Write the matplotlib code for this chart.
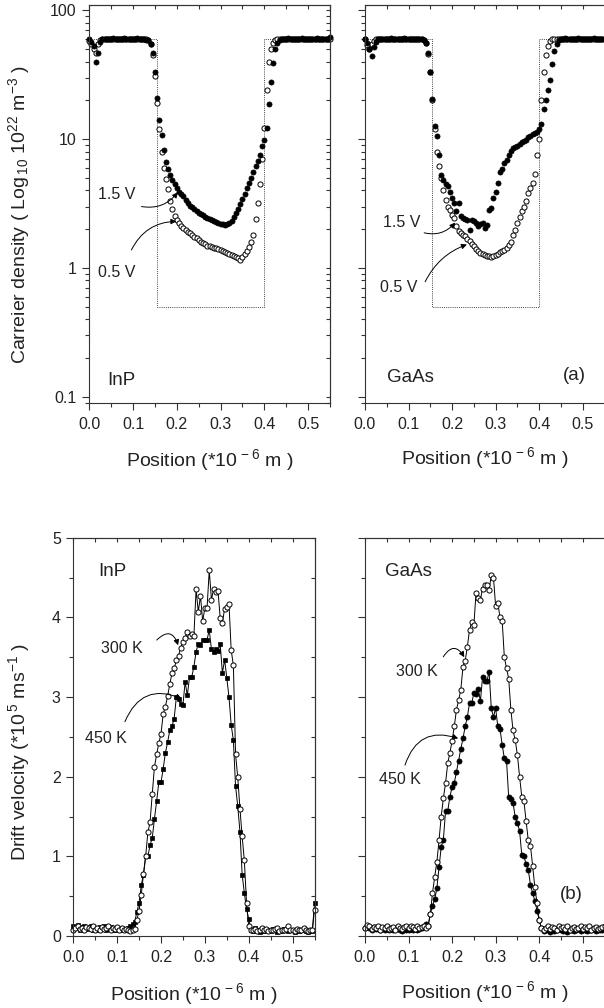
import matplotlib
matplotlib.use('Agg')
import matplotlib.pyplot as plt
from matplotlib.ticker import MultipleLocator, LogLocator, NullFormatter

plt.rcParams['font.family'] = ['Liberation Sans', 'DejaVu Sans']
plt.rcParams['mathtext.fontset'] = 'custom'
plt.rcParams['mathtext.rm'] = 'Liberation Sans'
plt.rcParams['mathtext.it'] = 'Liberation Sans:italic'

# ── data: position grid (*1e-6 m) ───────────────────────────────────────────
POS = [0.000, 0.005, 0.010, 0.015, 0.020, 0.025, 0.030, 0.035, 0.040, 0.045,
       0.050, 0.055, 0.060, 0.065, 0.070, 0.075, 0.080, 0.085, 0.090, 0.095,
       0.100, 0.105, 0.110, 0.115, 0.120, 0.125, 0.130, 0.135, 0.140, 0.145,
       0.150, 0.155, 0.160, 0.165, 0.170, 0.175, 0.180, 0.185, 0.190, 0.195,
       0.200, 0.205, 0.210, 0.215, 0.220, 0.225, 0.230, 0.235, 0.240, 0.245,
       0.250, 0.255, 0.260, 0.265, 0.270, 0.275, 0.280, 0.285, 0.290, 0.295,
       0.300, 0.305, 0.310, 0.315, 0.320, 0.325, 0.330, 0.335, 0.340, 0.345,
       0.350, 0.355, 0.360, 0.365, 0.370, 0.375, 0.380, 0.385, 0.390, 0.395,
       0.400, 0.405, 0.410, 0.415, 0.420, 0.425, 0.430, 0.435, 0.440, 0.445,
       0.450, 0.455, 0.460, 0.465, 0.470, 0.475, 0.480, 0.485, 0.490, 0.495,
       0.500, 0.505, 0.510, 0.515, 0.520, 0.525, 0.530, 0.535, 0.540, 0.545,
       0.550]

# doping profile (dotted)
DOPING_X = [0.0, 0.155, 0.155, 0.40, 0.40, 0.55]
DOPING_Y = [60, 60, 0.5, 0.5, 60, 60]

# carrier density (1e22 m^-3), InP
INP_15V = [60, 57, 53, 40, 47, 57, 60, 59.5, 60, 60,
           60, 60.5, 60, 59.5, 60, 60, 60.5, 60, 60, 59.5,
           60, 60, 60.5, 60, 60, 59.5, 59, 58.5, 55, 47,
           33, 21, 14, 10.7, 8.2, 6.7, 5.9, 5.3, 4.8, 4.5,
           4.2, 3.9, 3.75, 3.6, 3.4, 3.2, 3.05, 2.95, 2.85, 2.77,
           2.68, 2.62, 2.56, 2.5, 2.44, 2.4, 2.35, 2.3, 2.27, 2.24,
           2.2, 2.18, 2.17, 2.18, 2.24, 2.32, 2.47, 2.65, 2.85, 3.15,
           3.45, 3.75, 4.2, 4.6, 5.0, 5.6, 6.2, 6.8, 7.6, 8.8,
           9.9, 12.2, 18.6, 28, 39, 50, 56, 59, 60, 60,
           60, 60.5, 60, 60, 59.5, 60, 60, 60.5, 60, 60,
           60, 59.5, 60, 60, 60.5, 60, 60, 59.5, 60, 60,
           62]
INP_05V = [58, 55, 50, 47, 55, 59, 60, 60, 60, 60,
           60, 60, 60, 60, 60, 60, 60, 60, 60, 60,
           60, 60, 60, 60, 60, 60, 59.5, 58.5, 55, 45,
           31, 19, 12, 8.0, 6.0, 4.9, 4.1, 3.3, 2.85, 2.55,
           2.35, 2.22, 2.12, 2.04, 1.97, 1.91, 1.86, 1.8, 1.74, 1.7,
           1.64, 1.6, 1.56, 1.53, 1.49, 1.47, 1.45, 1.44, 1.42, 1.4,
           1.38, 1.36, 1.33, 1.3, 1.28, 1.26, 1.24, 1.22, 1.19, 1.16,
           1.22, 1.28, 1.36, 1.45, 1.6, 1.8, 2.4, 3.2, 4.5, 7.0,
           12.2, 24, 40, 50, 56, 59, 60, 60, 60, 60,
           60, 60, 60, 60, 60, 60, 60, 60, 60, 60,
           60, 60, 60, 60, 60, 60, 60, 60, 60, 60,
           60]

# carrier density (1e22 m^-3), GaAs
GAAS_15V = [60, 56, 50, 44, 52, 57, 60, 60, 60, 60,
            60, 60, 60.5, 60, 60, 59.5, 60, 60, 60.5, 60,
            60, 60, 60, 60, 60, 60, 59.5, 58.5, 56, 47,
            33, 20.5, 12.6, 10.6, 7.6, 5.3, 4.8, 4.5, 4.3, 3.87,
            3.5, 3.2, 2.75, 3.2, 2.55, 2.45, 2.4, 2.37, 1.98, 2.37,
            2.3, 2.25, 2.1, 2.2, 2.24, 2.04, 2.17, 2.8, 2.9, 3.5,
            3.9, 4.6, 5.6, 5.9, 6.5, 6.9, 7.6, 8.1, 8.5, 8.7,
            8.9, 9.2, 9.5, 9.7, 9.9, 10.3, 10.6, 10.9, 11.1, 11.3,
            11.9, 13, 17, 20.2, 24, 29, 38, 48, 55, 59,
            60, 60, 60.5, 60, 60, 59.5, 60, 60, 60.5, 60,
            60, 60, 59.5, 60, 60, 60.5, 60, 60, 60, 60,
            60]
GAAS_05V = [60, 54, 50, 55, 58, 60, 60, 60, 60, 60,
            60, 60, 60, 60, 60, 60, 60, 60, 60, 60,
            60, 60, 60, 60, 60, 60, 59.5, 58.5, 56, 46,
            33, 20, 12, 8.0, 6.15, 5.0, 4.06, 3.4, 3.0, 2.84,
            2.6, 2.45, 2.1, 1.93, 1.86, 1.8, 1.76, 1.68, 1.61, 1.53,
            1.47, 1.41, 1.35, 1.31, 1.28, 1.26, 1.24, 1.23, 1.22, 1.23,
            1.25, 1.29, 1.33, 1.36, 1.38, 1.43, 1.5, 1.6, 1.8, 1.98,
            2.25, 2.5, 2.75, 3.0, 3.3, 3.83, 4.2, 4.6, 5.4, 7.6,
            10, 20, 33, 45, 53, 58, 60, 60, 60, 60,
            60, 60, 60, 60, 60, 60, 60, 60, 60, 60,
            60, 60, 60, 60, 60, 60, 60, 60, 60, 60,
            60]

# drift velocity (1e5 m/s), InP
INP_300K = [0.08, 0.1, 0.12, 0.09, 0.1, 0.07, 0.11, 0.1, 0.09, 0.12,
            0.08, 0.1, 0.07, 0.11, 0.09, 0.1, 0.12, 0.08, 0.1, 0.09,
            0.11, 0.08, 0.1, 0.07, 0.09, 0.08, 0.06, 0.07, 0.09, 0.2,
            0.32, 0.52, 0.78, 1.0, 1.3, 1.43, 1.78, 2.12, 2.28, 2.42,
            2.54, 2.79, 2.88, 3.01, 3.16, 3.30, 3.36, 3.46, 3.52, 3.62,
            3.69, 3.74, 3.81, 3.77, 3.79, 3.77, 4.35, 4.07, 4.27, 3.95,
            4.12, 4.12, 4.59, 4.22, 4.36, 4.32, 4.33, 3.99, 3.93, 4.11,
            4.13, 4.17, 3.59, 3.4, 2.28, 1.99, 1.6, 1.25, 0.95, 0.42,
            0.12, 0.08, 0.07, 0.09, 0.06, 0.08, 0.1, 0.07, 0.09, 0.06,
            0.08, 0.07, 0.09, 0.1, 0.06, 0.08, 0.07, 0.09, 0.12, 0.07,
            0.08, 0.06, 0.09, 0.07, 0.08, 0.1, 0.07, 0.06, 0.08, 0.07,
            0.33]
INP_450K = [0.12, 0.1, 0.14, 0.08, 0.11, 0.13, 0.09, 0.1, 0.12, 0.07,
            0.1, 0.08, 0.11, 0.09, 0.12, 0.08, 0.1, 0.11, 0.07, 0.09,
            0.08, 0.1, 0.07, 0.09, 0.08, 0.1, 0.12, 0.15, 0.18, 0.3,
            0.42, 0.64, 0.77, 1.0, 1.0, 1.14, 1.23, 1.47, 1.69, 1.93,
            1.93, 2.1, 2.3, 2.43, 2.58, 2.63, 2.73, 3.0, 2.97, 2.91,
            2.9, 3.19, 3.02, 3.25, 3.25, 3.38, 3.57, 3.67, 3.65, 3.71,
            3.71, 3.72, 3.84, 3.6, 3.57, 3.6, 3.58, 3.66, 3.30, 3.47,
            3.24, 3.0, 2.65, 2.46, 1.88, 1.63, 1.31, 0.77, 0.54, 0.34,
            0.21, 0.08, 0.06, 0.1, 0.07, 0.05, 0.09, 0.06, 0.08, 0.07,
            0.06, 0.09, 0.07, 0.05, 0.08, 0.06, 0.09, 0.07, 0.06, 0.08,
            0.07, 0.05, 0.08, 0.06, 0.07, 0.09, 0.06, 0.05, 0.07, 0.06,
            0.41]

# drift velocity (1e5 m/s), GaAs
GAAS_300K = [0.1, 0.14, 0.12, 0.09, 0.11, 0.1, 0.12, 0.08, 0.11, 0.1,
             0.12, 0.09, 0.1, 0.11, 0.08, 0.12, 0.1, 0.09, 0.11, 0.12,
             0.1, 0.12, 0.11, 0.09, 0.12, 0.1, 0.11, 0.12, 0.1, 0.13,
             0.28, 0.54, 0.74, 0.93, 1.2, 1.5, 1.73, 1.92, 2.17, 2.3,
             2.45, 2.63, 2.84, 2.96, 3.09, 3.38, 3.45, 3.63, 3.84, 3.94,
             3.9, 4.31, 4.24, 4.22, 4.36, 4.40, 4.40, 4.34, 4.53, 4.5,
             4.14, 4.18, 4.0, 3.96, 3.5, 3.36, 3.23, 2.84, 2.58, 2.46,
             2.27, 2.0, 1.75, 1.69, 1.44, 1.2, 1.13, 0.88, 0.61, 0.42,
             0.2, 0.1, 0.08, 0.1, 0.12, 0.09, 0.11, 0.1, 0.08, 0.12,
             0.1, 0.11, 0.09, 0.12, 0.08, 0.1, 0.11, 0.09, 0.1, 0.12,
             0.09, 0.11, 0.1, 0.12, 0.08, 0.1, 0.11, 0.09, 0.1, 0.11,
             0.12]
GAAS_450K = [0.1, 0.13, 0.1, 0.08, 0.11, 0.09, 0.1, 0.08, 0.1, 0.07,
             0.09, 0.08, 0.1, 0.07, 0.09, 0.1, 0.08, 0.06, 0.09, 0.08,
             0.07, 0.09, 0.08, 0.1, 0.08, 0.09, 0.1, 0.12, 0.15, 0.12,
             0.28, 0.38, 0.46, 0.6, 0.86, 1.12, 1.21, 1.57, 1.57, 1.75,
             1.87, 1.92, 2.06, 2.2, 2.35, 2.48, 2.63, 2.75, 2.92, 2.92,
             3.05, 3.04, 3.1, 2.95, 3.25, 3.2, 3.2, 3.32, 2.86, 2.75,
             2.86, 2.63, 2.6, 2.4, 2.23, 2.2, 1.74, 1.72, 1.67, 1.49,
             1.42, 1.32, 1.02, 1.0, 0.9, 0.83, 0.64, 0.54, 0.44, 0.32,
             0.2, 0.1, 0.06, 0.08, 0.07, 0.05, 0.08, 0.06, 0.07, 0.09,
             0.07, 0.06, 0.08, 0.05, 0.07, 0.08, 0.06, 0.07, 0.09, 0.06,
             0.08, 0.07, 0.06, 0.08, 0.07, 0.09, 0.06, 0.08, 0.07, 0.08,
             0.09]

X_TICKS = [0.0, 0.1, 0.2, 0.3, 0.4, 0.5]
X_TICKLABELS = ['0.0', '0.1', '0.2', '0.3', '0.4', '0.5']
DENS_TICKS = [0.1, 1, 10, 100]
DENS_TICKLABELS = ['0.1', '1', '10', '100']
VEL_TICKS = [0, 1, 2, 3, 4, 5]
VEL_TICKLABELS = ['0', '1', '2', '3', '4', '5']

XLABEL = r'Position (*10$^{\,-6}$ m )'
YLABEL_A = r'Carreier density ( Log$_{\,10}$ 10$^{22}$ m$^{-3}$ )'
YLABEL_B = r'Drift velocity (*10$^{\,5}$ ms$^{-1}$ )'

INK = '#222222'
AX_C = '#333333'
W, H = 604.0, 1008.0


def rect(l, r, t, b):
    return [l / W, 1 - b / H, (r - l) / W, (b - t) / H]


def style(ax, log, left_panel):
    for s in ax.spines.values():
        s.set_color(AX_C)
        s.set_linewidth(0.8)
    ax.set_xlim(0, 0.55)
    ax.set_xticks(X_TICKS)
    ax.set_xticklabels(X_TICKLABELS)
    ax.xaxis.set_minor_locator(MultipleLocator(0.05))
    if log:
        ax.set_yscale('log')
        ax.set_ylim(0.089, 110)
        ax.set_yticks(DENS_TICKS)
        ax.set_yticklabels(DENS_TICKLABELS)
        ax.yaxis.set_minor_locator(LogLocator(base=10, subs=range(2, 10)))
        ax.yaxis.set_minor_formatter(NullFormatter())
    else:
        ax.set_ylim(0, 5)
        ax.set_yticks(VEL_TICKS)
        ax.set_yticklabels(VEL_TICKLABELS)
        ax.yaxis.set_minor_locator(MultipleLocator(0.5))
    ax.tick_params(which='major', direction='out', length=5, width=0.8,
                   color=AX_C, labelsize=11.5, labelcolor=INK, pad=4)
    ax.tick_params(which='minor', direction='out', length=3, width=0.8, color=AX_C)
    ax.tick_params(axis='x', which='major', pad=5)
    if not left_panel:
        ax.tick_params(axis='y', labelleft=False)
        ax.spines['right'].set_visible(False)
    else:
        # inward ticks on the right spine
        sec = ax.secondary_yaxis('right')
        if log:
            sec.set_yticks(DENS_TICKS)
            sec.yaxis.set_minor_locator(LogLocator(base=10, subs=range(2, 10)))
            sec.yaxis.set_minor_formatter(NullFormatter())
        else:
            sec.set_yticks(VEL_TICKS)
            sec.yaxis.set_minor_locator(MultipleLocator(0.5))
        sec.tick_params(which='both', direction='in', length=3, width=0.8,
                        color=AX_C, labelright=False)
        sec.spines['right'].set_color(AX_C)
        sec.spines['right'].set_linewidth(0.8)
    # inward ticks on the top spine
    top = ax.secondary_xaxis('top')
    top.set_xticks(X_TICKS)
    top.xaxis.set_minor_locator(MultipleLocator(0.05))
    top.tick_params(which='both', direction='in', length=3, width=0.8,
                    color=AX_C, labeltop=False)
    top.spines['top'].set_color(AX_C)
    top.spines['top'].set_linewidth(0.8)


fig = plt.figure(figsize=(6.04, 10.08), dpi=100)

ax_a1 = fig.add_axes(rect(89.3, 330.0, 5.0, 403.3))
ax_a2 = fig.add_axes(rect(365.0, 604.5, 5.0, 403.3))
ax_b1 = fig.add_axes(rect(73.3, 314.5, 537.7, 936.0))
ax_b2 = fig.add_axes(rect(365.0, 604.5, 537.7, 936.0))

# ── (a) carrier density ─────────────────────────────────────────────────────
for ax, d05, d15 in [(ax_a1, INP_05V, INP_15V), (ax_a2, GAAS_05V, GAAS_15V)]:
    ax.plot(DOPING_X, DOPING_Y, ls=(0, (1, 1.2)), lw=0.7, color='#444444')
    ax.plot(POS, d05, 'o', ms=3.7, mfc='white', mec='black', mew=0.7,
            ls='none', clip_on=False)
    ax.plot(POS, d15, 'o', ms=3.7, mfc='black', mec='black', mew=0.5,
            ls='none', clip_on=False)

# ── (b) drift velocity ──────────────────────────────────────────────────────
ax_b1.plot(POS, INP_450K, '-s', ms=3.4, mfc='black', mec='black', mew=0.5,
           lw=0.7, color='black', clip_on=False)
ax_b1.plot(POS, INP_300K, '-o', ms=3.7, mfc='white', mec='black', mew=0.7,
           lw=0.7, color='black', clip_on=False)
ax_b2.plot(POS, GAAS_450K, '-o', ms=3.7, mfc='black', mec='black', mew=0.5,
           lw=0.7, color='black', clip_on=False)
ax_b2.plot(POS, GAAS_300K, '-o', ms=3.7, mfc='white', mec='black', mew=0.7,
           lw=0.7, color='black', clip_on=False)

style(ax_a1, True, True)
style(ax_a2, True, False)
style(ax_b1, False, True)
style(ax_b2, False, False)

# ── labels ──────────────────────────────────────────────────────────────────
def label_text(ax, x, y, s, size, ha='left'):
    ax.text(x, y, s, transform=ax.transAxes, fontsize=size, color=INK,
            ha=ha, va='center')


def arrow(ax, head, tail, rad):
    ax.annotate('', xy=head, xycoords='data', xytext=tail,
                textcoords='axes fraction',
                arrowprops=dict(arrowstyle='-|>', color='black', lw=0.7,
                                mutation_scale=8, shrinkA=0, shrinkB=0,
                                connectionstyle='arc3,rad=%s' % rad))


label_text(ax_a1, 0.073, 0.058, 'InP', 13.5)
label_text(ax_a2, 0.092, 0.066, 'GaAs', 13.5)
label_text(ax_a2, 0.828, 0.071, '(a)', 13.5)
label_text(ax_b1, 0.102, 0.914, 'InP', 13.5)
label_text(ax_b2, 0.084, 0.914, 'GaAs', 13.5)
label_text(ax_b2, 0.815, 0.103, '(b)', 13.5)

label_text(ax_a1, 0.115, 0.523, '1.5 V', 11.5, ha='center')
arrow(ax_a1, (0.202, 3.87), (0.217, 0.494), 0.3)
label_text(ax_a1, 0.115, 0.329, '0.5 V', 11.5, ha='center')
arrow(ax_a1, (0.199, 2.30), (0.175, 0.385), -0.3)

label_text(ax_a2, 0.155, 0.455, '1.5 V', 11.5, ha='center')
arrow(ax_a2, (0.207, 2.25), (0.247, 0.428), 0.3)
label_text(ax_a2, 0.142, 0.290, '0.5 V', 11.5, ha='center')
arrow(ax_a2, (0.234, 1.52), (0.251, 0.305), -0.2)

label_text(ax_b1, 0.200, 0.723, '300 K', 11.5, ha='center')
arrow(ax_b1, (0.239, 3.65), (0.346, 0.743), -0.8)
label_text(ax_b1, 0.134, 0.497, '450 K', 11.5, ha='center')
arrow(ax_b1, (0.247, 2.98), (0.214, 0.538), -0.5)

label_text(ax_b2, 0.215, 0.663, '300 K', 11.5, ha='center')
arrow(ax_b2, (0.228, 3.50), (0.327, 0.701), -0.8)
label_text(ax_b2, 0.146, 0.392, '450 K', 11.5, ha='center')
arrow(ax_b2, (0.214, 2.48), (0.167, 0.429), -0.5)

# axis titles
for cx, cy in [(210, 460), (485, 458), (194, 994), (485, 992)]:
    fig.text(cx / W, 1 - cy / H, XLABEL, fontsize=14, color=INK,
             ha='center', va='center')
fig.text(19 / W, 1 - 215 / H, YLABEL_A, fontsize=14, color=INK,
         rotation=90, ha='center', va='center')
fig.text(19 / W, 1 - 752 / H, YLABEL_B, fontsize=14, color=INK,
         rotation=90, ha='center', va='center')

fig.savefig('out.png', dpi=100)
